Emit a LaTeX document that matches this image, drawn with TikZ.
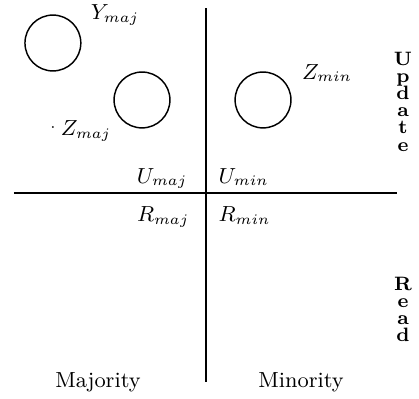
\documentclass[tikz,border=0pt]{standalone}
\usepackage{amsmath}
\usepackage{tikz}

\begin{document}
\begin{tikzpicture}[
			line width=0.6pt,
			every node/.style={font=\fontsize{9}{11}\selectfont},
			site/.style={draw,circle,minimum size=0.81cm,inner sep=0pt}, % one replica
			lbl/.style={inner sep=0pt}, % quadrant labels
			letter/.style={inner sep=0pt,anchor=base,font=\bfseries\fontsize{8}{10}\selectfont}, % one letter of a row name
		]
		\useasboundingbox (-2.987,-2.9725) rectangle (3.0885,2.7985);

		% --- ends of the two dividing lines
		\coordinate (top) at (0.0, 2.68);
		\coordinate (bot) at (0.0,-2.74);
		\coordinate (lft) at (-2.784,0.0);
		\coordinate (rgt) at ( 2.77, 0.0);
		\draw (top) -- (bot);
		\draw (lft) -- (rgt);

		% --- the replicas and their names
		\node[site] (ymajc) at (-2.22, 2.175) {};
		\node[site] (zmajc) at (-0.928,1.349) {};
		\node[site] (zminc) at ( 0.827,1.349) {};
		\node (ymaj) at (-1.32, 2.58) {$Y_{maj}$};
		\node (zmaj) at (-1.74, 0.90) {$Z_{maj}$};
		\node (zmin) at ( 1.755,1.74) {$Z_{min}$};
		\fill (-2.22,0.957) circle (0.4pt);

		% --- labels round the crossing
		\node[lbl,anchor=base east] (umaj) at (-0.261, 0.145) {$U_{maj}$};
		\node[lbl,anchor=base west] (umin) at ( 0.174, 0.145) {$U_{min}$};
		\node[lbl,anchor=base east] (rmaj) at (-0.232,-0.42) {$R_{maj}$};
		\node[lbl,anchor=base west] (rmin) at ( 0.174,-0.42) {$R_{min}$};

		% --- the two sides
		\node[lbl,anchor=base] (maj) at (-1.566,-2.813) {Majority};
		\node[lbl,anchor=base] (min) at ( 1.378,-2.813) {Minority};

		% --- the two rows, written downwards
		\foreach \l [count=\i from 0] in {U,p,d,a,t,e}
			\node[letter] (upd\i) at (2.857, 1.856-0.25*\i) {\l};
		\foreach \l [count=\i from 0] in {R,e,a,d}
			\node[letter] (rd\i) at (2.857,-1.4065-0.25*\i) {\l};
	\end{tikzpicture}
\end{document}
